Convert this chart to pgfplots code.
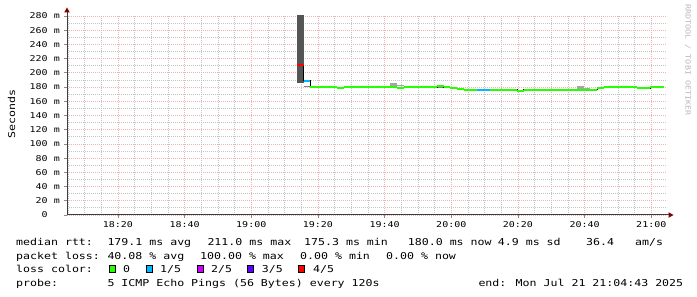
\documentclass[border=0pt]{standalone}
\usepackage{pgfplots}
\pgfplotsset{compat=1.18}
\usepackage{fontspec}
\setmainfont{DejaVu Sans Mono}
\newfontfamily\legfont[FakeStretch=1.22]{DejaVu Sans Mono}
\newfontfamily\tickfont[FakeStretch=1.25]{DejaVu Sans Mono}
\newfontfamily\wmfont[FakeStretch=1.2]{DejaVu Sans Mono}
\definecolor{mgrid}{RGB}{240,178,178}
\definecolor{mingrid}{RGB}{195,195,195}
\definecolor{arrowred}{RGB}{128,0,0}
\definecolor{axiscol}{RGB}{60,60,60}
\definecolor{lossA}{HTML}{26FF00}
\definecolor{lossB}{HTML}{00B8FF}
\definecolor{lossC}{HTML}{CC00FF}
\definecolor{lossD}{HTML}{5E00FF}
\definecolor{lossE}{HTML}{FF0000}
\definecolor{smokedark}{RGB}{85,85,85}
\definecolor{smoke}{RGB}{165,165,165}
\definecolor{smokemid}{RGB}{130,130,130}
\newcommand{\lf}{\legfont\fontsize{9.5bp}{11bp}\selectfont}
\begin{document}
\begin{tikzpicture}
\useasboundingbox (0,0) rectangle (697bp,297bp);
\fill[white] (0,0) rectangle (697bp,297bp);
\begin{axis}[
  at={(67bp,82bp)}, anchor=south west,
  scale only axis, width=600bp, height=200bp,
  xmin=4.717, xmax=184.717, ymin=0, ymax=281.4,
  axis x line*=bottom, axis y line*=left,
  axis line style={draw=none},
  xtick={20,40,...,180},
  xticklabels={18:20,18:40,19:00,19:20,19:40,20:00,20:20,20:40,21:00},
  minor xtick={5,10,15,25,30,35,45,50,55,65,70,75,85,90,95,105,110,115,125,130,135,145,150,155,165,170,175},
  ytick={0,20,...,280},
  yticklabels={{0\phantom{mm}},20 m,40 m,60 m,80 m,100 m,120 m,140 m,160 m,180 m,200 m,220 m,240 m,260 m,280 m},
  minor ytick={10,30,...,270},
  grid=both,
  major grid style={mgrid, dash pattern=on 1bp off 1bp, line width=0.8bp},
  minor grid style={mingrid, dash pattern=on 1bp off 1bp, line width=0.8bp},
  tick align=outside,
  major tick length=3bp, minor tick length=0bp,
  major tick style={black!45, line width=0.8bp},
  tick label style={font=\tickfont\fontsize{8bp}{9bp}\selectfont, inner sep=0pt},
  xticklabel style={anchor=north},
  xticklabel shift=3bp,
  yticklabel style={anchor=east},
  yticklabel shift=4bp,
  clip=true,
]
% smoke
\addplot[fill=smokedark, draw=none] coordinates {(73.717,186) (75.717,186) (75.717,281.4) (73.717,281.4)} -- cycle;
\addplot[fill=smokemid, draw=none] coordinates {(75.717,179.5) (77.717,179.5) (77.717,182) (75.717,182)} -- cycle;
\addplot[fill=smoke, draw=none] coordinates {(101.717,181) (103.717,181) (103.717,185.7) (101.717,185.7)} -- cycle;
\addplot[fill=smoke, draw=none] coordinates {(103.717,181) (105.717,181) (105.717,183) (103.717,183)} -- cycle;
\addplot[fill=smokemid, draw=none] coordinates {(115.717,178.5) (117.717,178.5) (117.717,180.5) (115.717,180.5)} -- cycle;
\addplot[fill=smoke, draw=none] coordinates {(157.717,177) (159.717,177) (159.717,181.5) (157.717,181.5)} -- cycle;
\addplot[fill=smoke, draw=none] coordinates {(159.717,177) (161.717,177) (161.717,179) (159.717,179)} -- cycle;
% median step line (dark)
\addplot[const plot mark left, black, line width=1bp, mark=none] coordinates {
 (73.717,211) (75.717,188.6) (77.717,180) (85.717,178.5) (87.717,180)
 (103.717,178.5) (105.717,180) (115.717,182) (117.717,179.5) (119.717,178.5)
 (121.717,177.5) (123.717,176.5) (139.717,175) (141.717,176.5) (163.717,178)
 (165.717,180) (175.717,178.5) (179.717,180) (183.717,180)};
% loss-coloured median
\addplot[jump mark left, lossA, line width=2bp, mark=none] coordinates {
 (77.717,180) (85.717,178.5) (87.717,180)
 (103.717,178.5) (105.717,180) (115.717,182) (117.717,179.5) (119.717,178.5)
 (121.717,177.5) (123.717,176.5) (139.717,175) (141.717,176.5) (163.717,178)
 (165.717,180) (175.717,178.5) (179.717,180) (183.717,180)};
\addplot[jump mark left, lossB, line width=2bp, mark=none] coordinates {(75.717,188.6) (77.717,188.6)};
\addplot[jump mark left, lossB, line width=2bp, mark=none] coordinates {(127.717,176.5) (131.717,176.5)};
\addplot[jump mark left, lossE, line width=2bp, mark=none] coordinates {(73.717,211) (75.717,211)};
\end{axis}
% axes with arrows
\draw[axiscol, line width=1bp] (66.5bp,82bp) -- (669bp,82bp);
\fill[arrowred] (673.5bp,82bp) -- (668.5bp,84.8bp) -- (668.5bp,79.2bp) -- cycle;
\draw[axiscol, line width=1bp] (67bp,81.5bp) -- (67bp,285bp);
\fill[arrowred] (67bp,289.5bp) -- (64.2bp,284.5bp) -- (69.8bp,284.5bp) -- cycle;
% y label
\node[rotate=90, inner sep=0pt] at (11.5bp,183bp) {\lf Seconds};
% watermark
\node[rotate=-90, inner sep=0pt, text=black!28] at (688bp,237bp) {\wmfont\fontsize{7bp}{8bp}\selectfont RRDTOOL / TOBI OETIKER};
% legend rows
\begin{scope}[every node/.style={anchor=base west, inner sep=0pt}]
\node at (16bp,51.5bp) {\lf median rtt:};
\node at (107.3bp,51.5bp) {\lf 179.1 ms avg};
\node at (207.3bp,51.5bp) {\lf 211.0 ms max};
\node at (304bp,51.5bp) {\lf 175.3 ms min};
\node at (407.7bp,51.5bp) {\lf 180.0 ms now};
\node at (497.7bp,51.5bp) {\lf 4.9 ms sd};
\node at (586bp,51.5bp) {\lf 36.4};
\node at (635bp,51.5bp) {\lf am/s};
\node at (16bp,38bp) {\lf packet loss:};
\node at (107.3bp,38bp) {\lf 40.08 \% avg};
\node at (200bp,38bp) {\lf 100.00 \% max};
\node at (300bp,38bp) {\lf 0.00 \% min};
\node at (386bp,38bp) {\lf 0.00 \% now};
\node at (16bp,24.5bp) {\lf loss color:};
\node at (123bp,24.5bp) {\lf 0};
\node at (160bp,24.5bp) {\lf 1/5};
\node at (211bp,24.5bp) {\lf 2/5};
\node at (261.7bp,24.5bp) {\lf 3/5};
\node at (313bp,24.5bp) {\lf 4/5};
\node at (16bp,11bp) {\lf probe:};
\node at (107.3bp,11bp) {\lf 5 ICMP Echo Pings (56 Bytes) every 120s};
\node at (478.3bp,11bp) {\lf end: Mon Jul 21 21:04:43 2025};
\end{scope}
\draw[black, line width=0.8bp, fill=lossA] (109.4bp,24.6bp) rectangle (115.8bp,31.8bp);
\draw[black, line width=0.8bp, fill=lossB] (146.1bp,24.6bp) rectangle (152.5bp,31.8bp);
\draw[black, line width=0.8bp, fill=lossC] (197.1bp,24.6bp) rectangle (203.5bp,31.8bp);
\draw[black, line width=0.8bp, fill=lossD] (247.4bp,24.6bp) rectangle (253.8bp,31.8bp);
\draw[black, line width=0.8bp, fill=lossE] (298.4bp,24.6bp) rectangle (304.8bp,31.8bp);
\end{tikzpicture}
\end{document}
